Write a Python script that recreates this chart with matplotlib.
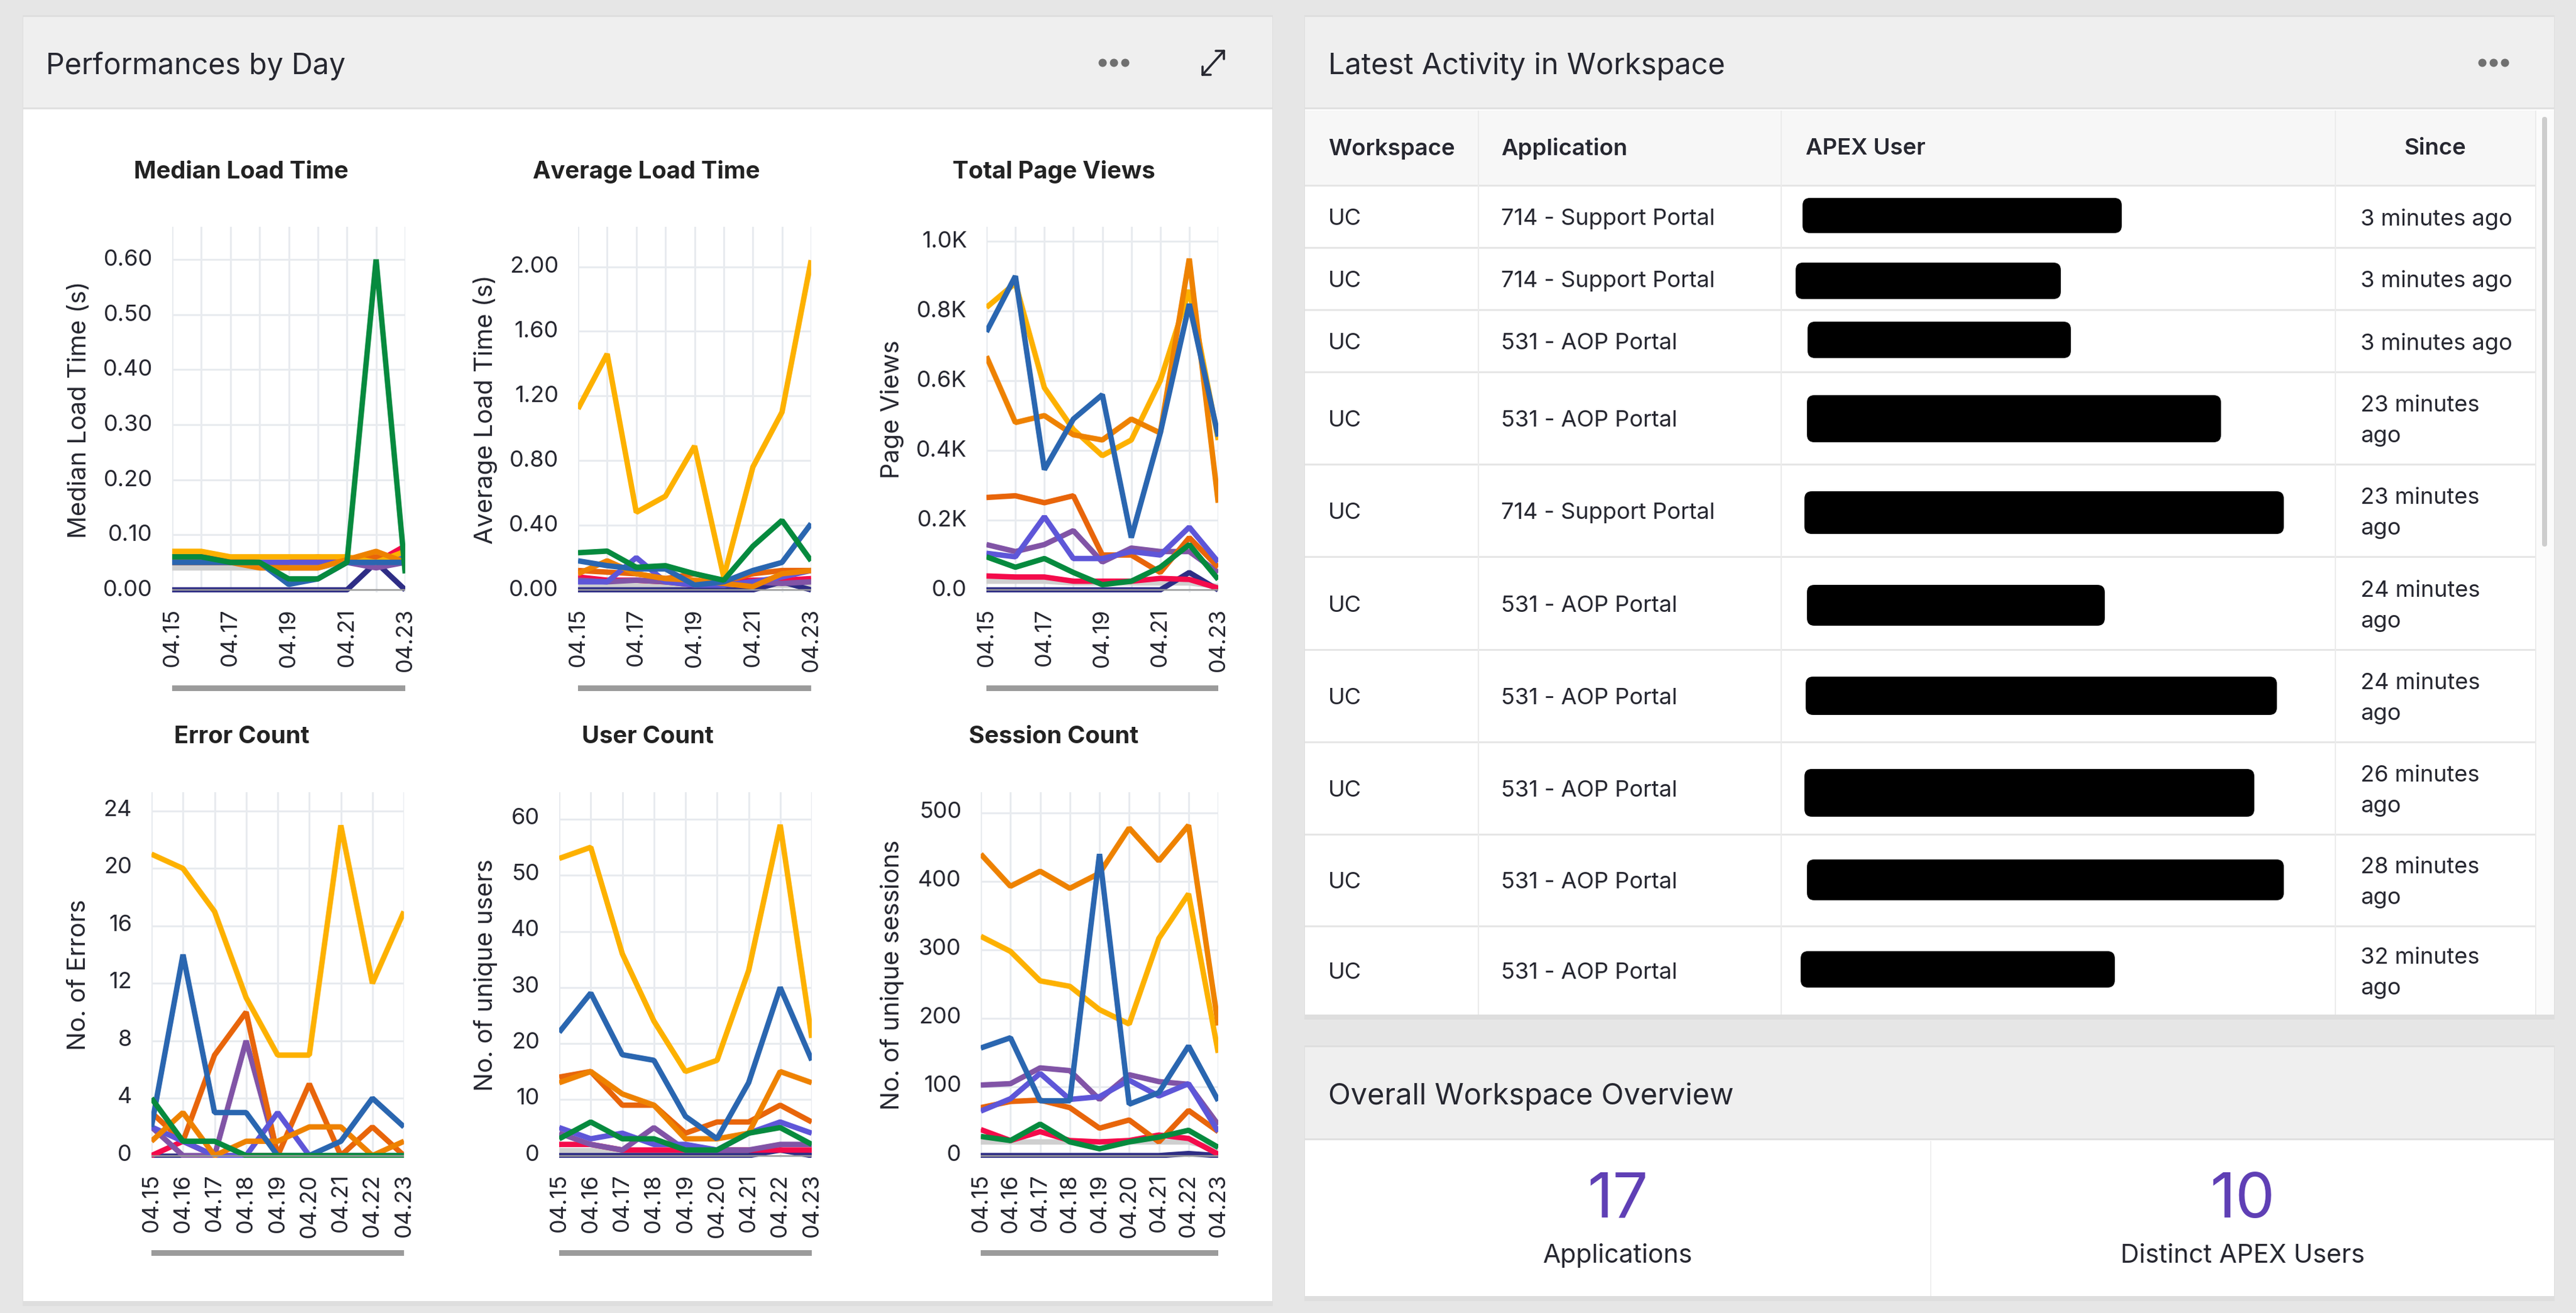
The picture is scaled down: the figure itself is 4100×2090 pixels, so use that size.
"""
Dashboard screenshot recreation: performance charts by day, latest activity
table and workspace overview.
"""

import matplotlib
matplotlib.use('Agg')
import matplotlib.pyplot as plt
from matplotlib.patches import Rectangle, FancyBboxPatch, Circle
from matplotlib.transforms import ScaledTranslation

W, H = 4100, 2090

plt.rcParams['font.family'] = ['Inter', 'DejaVu Sans']

days = ['04.15', '04.16', '04.17', '04.18', '04.19', '04.20', '04.21', '04.22', '04.23']

# Draw order, bottom to top
series_colours = ['#cfcfcf', '#2e2d85', '#f40b4b', '#8154a6', '#e8650a',
                  '#5e56d8', '#fdb100', '#ee8200', '#2a66b0', '#068a3e']

median_values = [
    [.04, .04, .04, .04, .04, .04, .05, .05, .05],
    [0, 0, 0, 0, 0, 0, 0, .05, 0],
    [.06, .06, .055, .05, .05, .06, .05, .05, .08],
    [.05, .05, .05, .05, .05, .05, .05, .04, .05],
    [.05, .05, .05, .05, .04, .04, .055, .06, .05],
    [.05, .05, .05, .05, .05, .05, .05, .05, .06],
    [.07, .07, .06, .06, .06, .06, .06, .05, .07],
    [.05, .05, .05, .04, .04, .04, .055, .07, .05],
    [.05, .05, .05, .05, .01, .02, .05, .05, .05],
    [.06, .06, .05, .05, .02, .02, .05, .60, .03],
]
average_values = [
    [.03, .03, .03, .03, .03, .03, .03, .03, .03],
    [0, 0, 0, 0, 0, 0, 0, .05, 0],
    [.08, .06, .06, .05, .03, .05, .06, .06, .07],
    [.06, .05, .06, .05, .04, .03, .05, .04, .05],
    [.12, .11, .10, .07, .10, .05, .10, .12, .12],
    [.05, .05, .20, .05, .03, .03, .05, .08, .12],
    [1.12, 1.46, .48, .58, .89, .08, .76, 1.10, 2.04],
    [.10, .18, .10, .07, .06, .04, .02, .10, .12],
    [.18, .15, .13, .13, .03, .05, .12, .17, .41],
    [.23, .24, .14, .15, .10, .06, .27, .43, .18],
]
views_values = [
    [.025, .025, .025, .02, .02, .02, .02, .02, .01],
    [0, 0, 0, 0, 0, 0, 0, .05, 0],
    [.04, .037, .037, .025, .025, .025, .033, .03, .005],
    [.13, .11, .13, .17, .08, .12, .11, .11, .05],
    [.265, .27, .25, .27, .10, .10, .05, .15, .065],
    [.105, .095, .21, .09, .09, .11, .10, .18, .08],
    [.81, .88, .58, .46, .385, .43, .60, .86, .43],
    [.67, .48, .50, .445, .43, .49, .45, .95, .25],
    [.74, .90, .345, .49, .56, .15, .45, .82, .44],
    [.095, .065, .09, .05, .015, .025, .065, .13, .03],
]
error_values = [
    [0, 0, 0, 0, 0, 0, 0, 0, 0],
    [0, 0, 0, 0, 0, 0, 0, 0, 0],
    [0, 1, 0, 0, 0, 0, 0, 0, 0],
    [2, 0, 0, 8, 0, 0, 0, 0, 0],
    [3, 1, 7, 10, 0, 5, 0, 2, 0],
    [2, 1, 0, 0, 3, 0, 0, 0, 0],
    [21, 20, 17, 11, 7, 7, 23, 12, 17],
    [1, 3, 0, 1, 1, 2, 2, 0, 1],
    [2, 14, 3, 3, 0, 0, 1, 4, 2],
    [4, 1, 1, 0, 0, 0, 0, 0, 0],
]
user_values = [
    [1, 1, 1, 1, 1, 1, 1, 1, 1],
    [0, 0, 0, 0, 0, 0, 0, 1, 0],
    [2, 2, 1, 1, 1, 1, 1, 1, 1],
    [4, 2, 1, 5, 1, 1, 1, 2, 2],
    [14, 15, 9, 9, 4, 6, 6, 9, 6],
    [5, 3, 4, 2, 2, 1, 4, 6, 4],
    [53, 55, 36, 24, 15, 17, 33, 59, 21],
    [13, 15, 11, 9, 3, 3, 4, 15, 13],
    [22, 29, 18, 17, 7, 3, 13, 30, 17],
    [3, 6, 3, 3, 1, 1, 4, 5, 2],
]
session_values = [
    [20, 20, 20, 20, 20, 20, 20, 20, 10],
    [0, 0, 0, 0, 0, 0, 0, 3, 0],
    [38, 22, 35, 22, 20, 22, 30, 25, 2],
    [103, 105, 128, 124, 82, 118, 108, 104, 45],
    [70, 79, 81, 70, 40, 52, 20, 66, 35],
    [65, 83, 120, 82, 86, 110, 87, 105, 35],
    [320, 298, 255, 247, 213, 192, 317, 382, 150],
    [440, 393, 415, 390, 412, 478, 430, 482, 190],
    [157, 172, 80, 80, 440, 75, 92, 160, 80],
    [28, 22, 46, 20, 10, 20, 27, 37, 12],
]

median_ticks = [0, .1, .2, .3, .4, .5, .6]
median_labels = ['0.00', '0.10', '0.20', '0.30', '0.40', '0.50', '0.60']
average_ticks = [0, .4, .8, 1.2, 1.6, 2.0]
average_labels = ['0.00', '0.40', '0.80', '1.20', '1.60', '2.00']
views_ticks = [0, .2, .4, .6, .8, 1.0]
views_labels = ['0.0', '0.2K', '0.4K', '0.6K', '0.8K', '1.0K']
error_ticks = [0, 4, 8, 12, 16, 20, 24]
user_ticks = [0, 10, 20, 30, 40, 50, 60]
session_ticks = [0, 100, 200, 300, 400, 500]

table_workspace = ['UC'] * 10
table_application = ['714 - Support Portal', '714 - Support Portal', '531 - AOP Portal',
                     '531 - AOP Portal', '714 - Support Portal', '531 - AOP Portal',
                     '531 - AOP Portal', '531 - AOP Portal', '531 - AOP Portal',
                     '531 - AOP Portal']
table_since = ['3 minutes ago', '3 minutes ago', '3 minutes ago', '23 minutes ago',
               '23 minutes ago', '24 minutes ago', '24 minutes ago', '26 minutes ago',
               '28 minutes ago', '32 minutes ago']

TEXT = '#262730'
GRID = '#e8ebef'
LINE_W = 6.2


def px(n):
    # pixels to points at dpi 100
    return n * 0.72


fig = plt.figure(figsize=(W / 100, H / 100), dpi=100, facecolor='#e6e6e6')

# Pixel canvas for panels, table and text
bg = fig.add_axes([0, 0, 1, 1], zorder=0)
bg.set_xlim(0, W)
bg.set_ylim(H, 0)
bg.axis('off')


def box(x0, y0, x1, y1, colour):
    bg.add_patch(Rectangle((x0, y0), x1 - x0, y1 - y0, facecolor=colour, edgecolor='none'))


def dots(cx, cy):
    for dx in (-18, 0, 18):
        bg.add_patch(Circle((cx + dx, cy), 6.5, facecolor='#707070', edgecolor='none'))


def label(x, y, s, size=26, weight='normal', ha='left', colour=TEXT):
    bg.text(x, y + 3, s, fontsize=size, fontweight=weight, ha=ha, va='center', color=colour)


# Panels
for x0, y0, x1, y1, head in [(37, 27, 2025, 2071, 173),
                             (2077, 27, 4065, 1615, 173),
                             (2077, 1667, 4065, 2063, 1814)]:
    box(x0 - 1, y0 - 3, x1 + 1, y1 + 8, '#dedede')
    box(x0, y0, x1, y1, 'white')
    box(x0, y0, x1, head, '#efefef')
    box(x0, head - 2, x1, head + 1, '#e0e0e0')

label(73, 102, 'Performances by Day', 33.5)
label(2114, 103, 'Latest Activity in Workspace', 33.8)
label(2114, 1742, 'Overall Workspace Overview', 33.8)
dots(1773, 100)
dots(3969, 100)

# Expand icon
for xs, ys in [((1914, 1948), (119, 81)), ((1935, 1948), (81, 81)), ((1948, 1948), (81, 94)),
               ((1914, 1914), (106, 119)), ((1914, 1927), (119, 119))]:
    bg.plot(xs, ys, color='#262730', lw=px(3.5), solid_capstyle='round')
bg.set_xlim(0, W)
bg.set_ylim(H, 0)

# Table
box(2077, 176, 4036, 296, '#f7f7f7')
row_edges = [296, 395, 494, 593, 740, 887, 1035, 1182, 1329, 1475, 1615]
col_edges = [2353, 2835, 3717, 4036]
for y in row_edges[:-1]:
    box(2077, y - 2, 4036, y + 1, '#e6e6e6')
for x in col_edges:
    box(x - 1, 176, x + 1, 1615, '#ebebeb')
box(4038, 176, 4065, 1615, '#fbfbfb')
bg.add_patch(FancyBboxPatch((4046, 186), 8, 684, boxstyle='round,pad=0,rounding_size=4',
                            facecolor='#cdcdcd', edgecolor='none'))

label(2114, 234, 'Workspace', 26.3, 'semibold')
label(2389, 234, 'Application', 26.3, 'semibold')
label(2874, 234, 'APEX User', 26.3, 'semibold')
label(3876, 234, 'Since', 26.3, 'semibold', ha='center')

redacted = [(2869, 315, 3377, 371), (2858, 418, 3280, 476), (2877, 512, 3296, 570),
            (2876, 629, 3535, 704), (2872, 782, 3635, 850), (2876, 931, 3350, 996),
            (2874, 1077, 3624, 1138), (2872, 1224, 3588, 1300), (2876, 1368, 3635, 1433),
            (2866, 1514, 3366, 1572)]
for i in range(10):
    top, bottom = row_edges[i], row_edges[i + 1]
    cy = (top + bottom) / 2
    label(2114, cy, table_workspace[i])
    label(2389, cy, table_application[i])
    since = table_since[i]
    if since.startswith('3 '):
        label(3757, cy, since)
    else:
        head, tail = since.rsplit(' ', 1)
        label(3757, cy - 24, head)
        label(3757, cy + 25, tail)
    x0, y0, x1, y1 = redacted[i]
    bg.add_patch(FancyBboxPatch((x0, y0), x1 - x0, y1 - y0, boxstyle='round,pad=0,rounding_size=12',
                                facecolor='black', edgecolor='none'))

# Overview
box(3072, 1816, 3074, 2063, '#f0f0f0')
label(2575, 1909, '17', 72, ha='center', colour='#5f3fb5')
label(3569, 1909, '10', 72, ha='center', colour='#5f3fb5')
label(2575, 1996, 'Applications', 29.5, ha='center')
label(3569, 1996, 'Distinct APEX Users', 29.5, ha='center')


def line_chart(values, title, ylabel, ticks, tick_labels, left, right, top, bottom,
               y0, y_top, title_x, title_y, ylabel_x, every_day, bar_y, tick_lift):
    ax = fig.add_axes([left / W, 1 - bottom / H, (right - left) / W, (bottom - top) / H], zorder=2)
    for series, colour in zip(values, series_colours):
        ax.plot(range(len(days)), series, color=colour, lw=LINE_W,
                solid_joinstyle='bevel', solid_capstyle='butt')
    ax.axhline(0, color='#9b9b9b', lw=px(2.5), zorder=5)

    unit = ticks[-1] / (y0 - y_top)
    ax.set_xlim(0, len(days) - 1)
    ax.set_ylim(-(bottom - y0) * unit, (y0 - top) * unit)

    ax.set_xticks(range(len(days)))
    shown = days if every_day else [d if i % 2 == 0 else '' for i, d in enumerate(days)]
    ax.set_xticklabels(shown, rotation=90, fontsize=26, color=TEXT)
    ax.set_yticks(ticks)
    ax.set_yticklabels(tick_labels, fontsize=26, color=TEXT)
    ax.tick_params(length=0)
    ax.tick_params(axis='x', pad=px(25))
    ax.tick_params(axis='y', pad=px(31))
    lift = ScaledTranslation(0, px(tick_lift) / 72, fig.dpi_scale_trans)
    for tick_text in ax.get_yticklabels():
        tick_text.set_transform(tick_text.get_transform() + lift)
    ax.grid(color=GRID, lw=px(3))
    ax.set_axisbelow(True)
    for spine in ax.spines.values():
        spine.set_visible(False)

    ax.set_ylabel(ylabel, fontsize=28.7, color=TEXT, va='center')
    ax.yaxis.set_label_coords((ylabel_x + 5 - left) / (right - left), 0.5)
    ax.set_title(title, fontsize=27.5, fontweight='bold', color='#222222', va='center',
                 x=(title_x - left) / (right - left), y=1 + (top - title_y - 10) / (bottom - top))
    box(left, bar_y, right, bar_y + 9, '#9b9b9b')
    return ax


int_labels = lambda ticks: [str(t) for t in ticks]

line_chart(median_values, 'Median Load Time', 'Median Load Time (s)', median_ticks, median_labels,
           274, 645, 361, 943, 939, 413, 384, 272, 122, False, 1091, 3)
line_chart(average_values, 'Average Load Time', 'Average Load Time (s)', average_ticks, average_labels,
           920, 1291, 361, 943, 939, 424.5, 1029, 272, 768, False, 1091, 3)
line_chart(views_values, 'Total Page Views', 'Page Views', views_ticks, views_labels,
           1570, 1939, 361, 943, 939, 384, 1677, 272, 1415, False, 1091, 3)
line_chart(error_values, 'Error Count', 'No. of Errors', error_ticks, int_labels(error_ticks),
           241, 643, 1261, 1843, 1839.5, 1291, 385, 1171, 121, True, 1990, 5)
line_chart(user_values, 'User Count', 'No. of unique users', user_ticks, int_labels(user_ticks),
           890, 1292, 1261, 1843, 1839.5, 1304, 1031, 1171, 768, True, 1990, 5)
line_chart(session_values, 'Session Count', 'No. of unique sessions', session_ticks, int_labels(session_ticks),
           1561, 1939, 1261, 1843, 1839.5, 1294, 1677, 1171, 1415, True, 1990, 5)

fig.savefig('out.png', dpi=100, facecolor=fig.get_facecolor())
